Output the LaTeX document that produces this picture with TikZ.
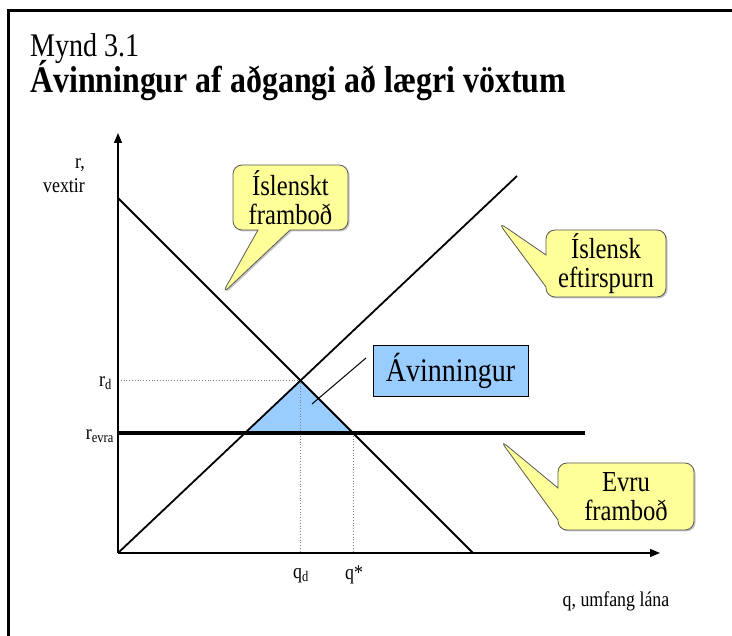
\documentclass[tikz,border=0pt]{standalone}
\usepackage{fontspec}
\setmainfont{Liberation Serif}[FakeStretch=0.85]
\usetikzlibrary{arrows.meta,shapes.callouts,shadows}
\definecolor{bubblefill}{HTML}{FFFF99}
\definecolor{gainfill}{HTML}{99CCFF}
\tikzset{
  axis/.style={line width=1.3pt,-{Triangle[length=10pt,width=8pt]}},
  curve/.style={line width=1.8pt},
  guide/.style={gray,dotted,line width=0.8pt},
  bubble/.style={rectangle callout,rounded corners=9pt,draw=black!65,line width=0.8pt,
    fill=bubblefill,align=center,inner sep=1pt,callout pointer width=32pt,
    font=\fontsize{29}{29}\selectfont,
    drop shadow={shadow xshift=1.5pt,shadow yshift=-1.5pt,fill=black!45}},
  small/.style={font=\fontsize{21}{24}\selectfont,inner sep=1pt},
}
\begin{document}
\begin{tikzpicture}[x=1pt,y=-1pt]
	\useasboundingbox (0,0) rectangle (732,636);
	\draw[line width=2.5pt] (8.5,640) -- (8.5,10.5) -- (740,10.5);
	% title
	\node[anchor=base west,inner sep=0pt,font=\fontsize{33}{33}\selectfont] (fig) at (30,57) {Mynd 3.1};
	\node[anchor=base west,inner sep=0pt,font=\fontsize{37.5}{37.5}\selectfont\bfseries] (title) at (30,93) {Ávinningur af aðgangi að lægri vöxtum};
	%%%%%%%%
	\coordinate (O) at (118,553);
	\coordinate (ytop) at (118,133);
	\coordinate (xend) at (660,553);
	\coordinate (dA) at (118,198);
	\coordinate (dB) at (473,553);
	\coordinate (uB) at (517,176);
	\coordinate (E) at (300.5,380.5);
	\coordinate (L) at (245,433);
	\coordinate (R) at (353,433);
	\coordinate (ev) at (585,433);
	\fill[gainfill] (E) -- (L) -- (R) -- cycle;
	\draw[guide] (O |- E) -- (E) -- (O -| E);
	\draw[guide] (R) -- (O -| R);
	\draw[axis] (O) -- (ytop);
	\draw[axis] (O) -- (xend);
	\draw[curve] (dA) -- (dB);
	\draw[curve] (O) -- (uB);
	\draw[line width=3.5pt] (O |- R) -- (ev);
	% labels
	\node[small,anchor=east,align=right] (rlab) at (86,176) {r,\\vextir};
	\node[small,anchor=east] (rd) at (113,383) {r\textsubscript{d}};
	\node[small,anchor=east] (revra) at (115,436) {r\textsubscript{evra}};
	\node[small] (qd) at (301,576) {q\textsubscript{d}};
	\node[small] (qstar) at (354,575) {q*};
	\node[small] (qlab) at (616,601) {q, umfang lána};
	% gain box
	\node[draw,line width=0.8pt,fill=gainfill,minimum width=155pt,minimum height=51pt,
		inner sep=0pt,font=\fontsize{33}{33}\selectfont] (gain) at (450.5,371) {Ávinningur};
	\coordinate (gtip) at (312,404);
	\draw[line width=1pt] (366,358) -- (gtip);
	% callouts
	\coordinate (tipS) at (222,294);
	\coordinate (tipD) at (498,222);
	\coordinate (tipE) at (500,440);
	\node[bubble,minimum width=115pt,minimum height=65pt,callout absolute pointer={(tipS)}] (supply) at (290.5,197.5) {Íslenskt\\framboð};
	\node[bubble,minimum width=120pt,minimum height=67pt,callout absolute pointer={(tipD)}] (demand) at (606,263.5) {Íslensk\\eftirspurn};
	\node[bubble,minimum width=136pt,minimum height=67pt,callout absolute pointer={(tipE)}] (euro) at (626,496.5) {Evru\\framboð};
\end{tikzpicture}
\end{document}
